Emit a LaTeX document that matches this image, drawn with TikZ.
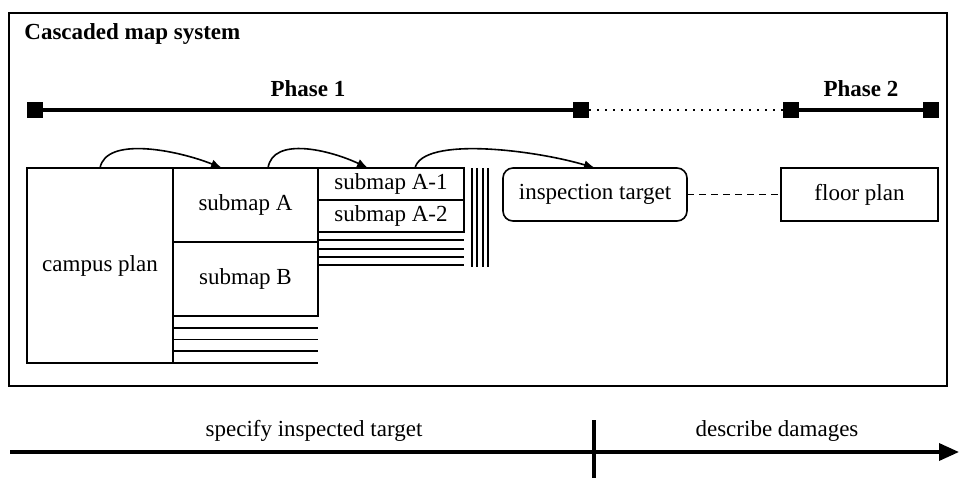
\documentclass[tikz,border=0pt]{standalone}
\usepackage{fontspec}
\setmainfont{Liberation Serif}
\usepackage{tikz}
\usetikzlibrary{calc}
\usetikzlibrary{arrows.meta}
\usetikzlibrary{positioning}
\newcommand{\mapfont}{\fontsize{11.5}{13}\selectfont}
\newcommand{\widthmap}{72.5pt}
\newcommand{\heightmap}{37pt}
\newcommand{\heightsubmap}{16pt}
\newcommand{\heighttarget}{26.5pt}
\tikzset{
    common/.style={anchor=north west, draw, rectangle, line width=0.8pt, inner sep=0pt, outer sep=0pt, font=\mapfont},
    map/.style={common, minimum width=\widthmap, minimum height=\heightmap},
    submap/.style={common, minimum width=73pt, minimum height=\heightsubmap},
    target/.style={common, minimum height=\heighttarget},
    stack/.style={line width=0.9pt},
    cascade/.style={line width=0.8pt, -{Latex[length=5.5pt, width=4.5pt]}},
    dashlink/.style={line width=0.8pt, dash pattern=on 3.5pt off 2.5pt},
    phasemark/.style={fill, rectangle, minimum size=8pt, inner sep=0pt, outer sep=0pt},
    phaseline/.style={line width=1.6pt},
    phasegap/.style={line width=0.9pt, dash pattern=on 0.9pt off 3.1pt},
    phaselabel/.style={above=6pt, inner sep=0pt, font=\mapfont\bfseries},
    timeline/.style={line width=1.75pt},
    outerframe/.style={line width=0.7pt}
}

\begin{document}
\begin{tikzpicture}[x=0.5pt, y=-0.5pt]
    \useasboundingbox (0,0) rectangle (960,479);
    \draw[outerframe] (9,13) rectangle (947,386);
    \node[anchor=base west, inner sep=0pt, font=\mapfont\bfseries] (title) at (24,39) {Cascaded map system};

    % phases
    \node[phasemark] (p0) at (35,110) {};
    \node[phasemark] (p1) at (581,110) {};
    \node[phasemark] (p2) at (791,110) {};
    \node[phasemark] (p3) at (931,110) {};
    \draw[phaseline] (p0) -- node[phaselabel] {Phase 1} (p1);
    \draw[phasegap] (p1) -- (p2);
    \draw[phaseline] (p2) -- node[phaselabel] {Phase 2} (p3);

    % maps
    \node[common, minimum width=73pt, minimum height=97.5pt] (campus) at (27,168) {campus plan};
    \node[map] (subA) at (campus.north east) {submap A};
    \node[map] (subB) at (subA.south west) {submap B};
    \node[submap] (subA1) at (subA.north east) {submap A-1};
    \node[submap] (subA2) at (subA1.south west) {submap A-2};
    \node[target, rounded corners=5pt, minimum width=92pt] (target) at (503,168) {inspection target};
    \node[target, minimum width=78.5pt] (floor) at (781,168) {floor plan};

    \foreach \k in {1,...,4}
        \draw[stack] ([yshift=-\k*5.85pt]subB.south west) -- ([yshift=-\k*5.85pt]subB.south east);
    \foreach \k in {1,...,4}
        \draw[stack] ([yshift=-\k*4.15pt]subA2.south west) -- ([yshift=-\k*4.15pt]subA2.south east);
    \foreach \k in {0,...,3}
        \draw[stack] ([xshift={4pt+\k*2.65pt}]subA1.north east) -- ++(0,99);

    \draw[cascade] (campus.north) .. controls +(6,-32) and +(-45,-18) .. ([xshift=-11.75pt]subA.north);
    \draw[cascade] ([xshift=11.25pt]subA.north) .. controls +(5,-32) and +(-38,-18) .. ([xshift=-11.5pt]subA1.north);
    \draw[cascade] ([xshift=12pt]subA1.north) .. controls +(8,-32) and +(-60,-18) .. (target.north);
    \draw[dashlink] (target) -- (floor);

    % time line
    \coordinate (t0) at (10,452);
    \coordinate (t1) at (959,452);
    \coordinate (tick) at (594,452);
    \draw[timeline, -{Triangle[length=10pt, width=8.5pt]}] (t0) -- (t1);
    \draw[timeline] ([yshift=16pt]tick) -- ([yshift=-13pt]tick);
    \node[anchor=base, font=\mapfont] (specify) at (314,436) {specify inspected target};
    \node[anchor=base, font=\mapfont] (describe) at (777,436) {describe damages};
\end{tikzpicture}
\end{document}
